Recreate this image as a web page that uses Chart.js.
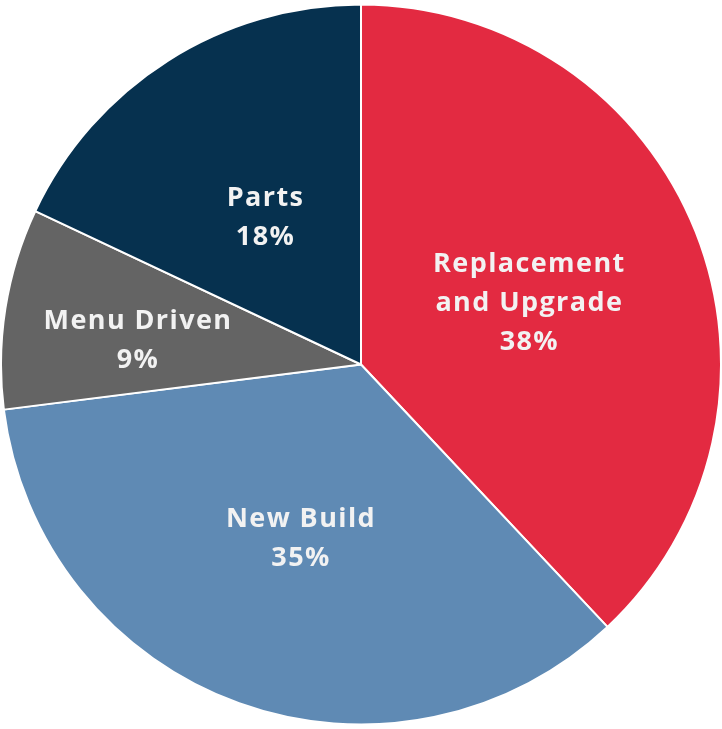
<!DOCTYPE html>
<html>
<head>
<meta charset="utf-8">
<script src="https://cdn.jsdelivr.net/npm/chart.js@4"></script>
<style>
    html, body { margin: 0; padding: 0; background: #ffffff; }
    #wrap { width: 722px; height: 729px; }
</style>
</head>
<body>
<div id="wrap"><canvas id="pieChart"></canvas></div>
<script>
// Data
const categories = ['Replacement and Upgrade', 'New Build', 'Menu Driven', 'Parts'];
const labelLines = [['Replacement', 'and Upgrade'], ['New Build'], ['Menu Driven'], ['Parts']];
const shares = [38, 35, 9, 18];
const sliceColors = ['#E32A41', '#5F8AB4', '#646464', '#06314F'];

// Draws the white labels inside each slice
const sliceLabels = {
    id: 'sliceLabels',
    afterDatasetsDraw(chart) {
        const ctx = chart.ctx;
        const meta = chart.getDatasetMeta(0);
        ctx.save();
        ctx.fillStyle = '#F2F2F2';
        ctx.font = 'bold 27px "Open Sans", sans-serif';
        ctx.letterSpacing = '1.4px';
        ctx.textAlign = 'center';
        ctx.textBaseline = 'middle';
        const lineH = 39;
        meta.data.forEach((arc, i) => {
            const mid = (arc.startAngle + arc.endAngle) / 2;
            const r = arc.outerRadius * (i === 2 ? 0.63 : 0.5);
            const x = arc.x + Math.cos(mid) * r;
            const y = arc.y + Math.sin(mid) * r + (i === 2 ? 12 : 5);
            const lines = [...labelLines[i], shares[i] + '%'];
            const top = y - (lines.length - 1) * lineH / 2;
            lines.forEach((t, j) => ctx.fillText(t, x + 1, top + j * lineH));
        });
        ctx.restore();
    }
};

new Chart(document.getElementById('pieChart').getContext('2d'), {
    type: 'pie',
    data: {
        labels: categories,
        datasets: [{
            data: shares,
            backgroundColor: sliceColors,
            borderColor: '#ffffff',
            borderWidth: 2
        }]
    },
    options: {
        responsive: true,
        maintainAspectRatio: false,
        animation: false,
        layout: { padding: 0 },
        plugins: {
            legend: { display: false },
            tooltip: { enabled: false }
        }
    },
    plugins: [sliceLabels]
});
</script>
</body>
</html>
